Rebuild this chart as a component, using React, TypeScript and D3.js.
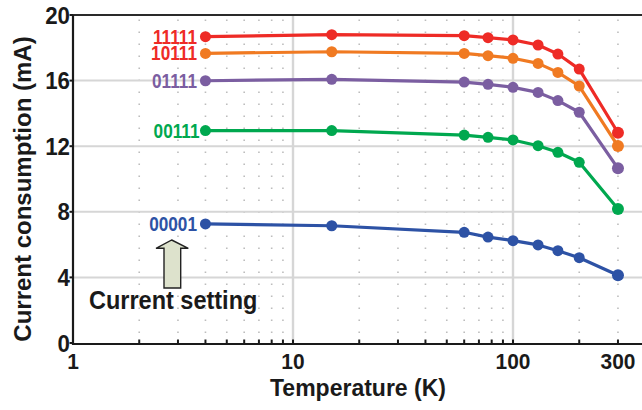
import React from "react";
import * as d3 from "d3";

const temperatures = [4, 15, 60, 77, 100, 130, 160, 200, 300];
const s11111 = [18.68, 18.8, 18.74, 18.62, 18.48, 18.17, 17.62, 16.7, 12.82];
const s10111 = [17.66, 17.76, 17.66, 17.52, 17.36, 17.05, 16.5, 15.67, 12.01];
const s01111 = [15.99, 16.08, 15.91, 15.77, 15.59, 15.28, 14.78, 14.07, 10.65];
const s00111 = [12.95, 12.95, 12.68, 12.54, 12.38, 12.03, 11.63, 11.02, 8.17];
const s00001 = [7.26, 7.15, 6.75, 6.46, 6.24, 5.98, 5.63, 5.2, 4.13];
const seriesNames = ["11111", "10111", "01111", "00111", "00001"];
const seriesColors = ["#ee2b26", "#f07a22", "#7b5ea1", "#00a84f", "#2d52a5"];
const labelColors = ["#ee2b26", "#ee2b26", "#7b5ea1", "#00a84f", "#2d52a5"];
const xMajorTicks = [1, 10, 100, 300];
const xMinorGrid = [2, 3, 4, 5, 6, 7, 8, 9, 20, 30, 40, 50, 60, 70, 80, 90, 200, 300];
const yTicks = [0, 4, 8, 12, 16, 20];
const yGrid = [4, 8, 12, 16];

const W = 642;
const H = 410;
const left = 73;
const top = 15;
const bottom = 344;

export default function App() {
  const x = d3.scaleLog().domain([1, 100]).range([left, 513]);
  const y = d3.scaleLinear().domain([0, 20]).range([343, top]);
  const allSeries = [s11111, s10111, s01111, s00111, s00001];
  const line = d3
    .line<number>()
    .x((_, i) => x(temperatures[i]))
    .y((d) => y(d));
  const font = "'Liberation Sans', Arial, Helvetica, sans-serif";

  return (
    <div style={{ position: "fixed", left: 0, top: 0 }}>
      <svg width={W} height={H} style={{ display: "block", background: "#fff" }} fontFamily={font}>
        {/* minor dotted vertical grid */}
        {xMinorGrid.map((v) => (
          <line
            key={"mg" + v}
            x1={x(v)}
            x2={x(v)}
            y1={333}
            y2={top}
            stroke="#bdbdbd"
            strokeWidth={1.6}
            strokeDasharray="1.6 10.4"
          />
        ))}
        {/* major grids */}
        {yGrid.map((v) => (
          <line key={"yg" + v} x1={left} x2={W} y1={y(v)} y2={y(v)} stroke="#d6d6d6" strokeWidth={2} />
        ))}
        {[10, 100].map((v) => (
          <line key={"xg" + v} x1={x(v)} x2={x(v)} y1={top} y2={bottom} stroke="#d6d6d6" strokeWidth={2.4} />
        ))}
        {/* frame */}
        <line x1={left} x2={W} y1={top} y2={top} stroke="#2a2a2a" strokeWidth={2} />
        <line x1={left} x2={W} y1={bottom} y2={bottom} stroke="#1a1a1a" strokeWidth={2.2} />
        <line x1={left} x2={left} y1={top} y2={bottom + 1} stroke="#1a1a1a" strokeWidth={2.2} />
        {/* x ticks */}
        {[...xMinorGrid, 10, 100].map((v) => (
          <line key={"xt" + v} x1={x(v)} x2={x(v)} y1={bottom} y2={bottom - 4.5} stroke="#1a1a1a" strokeWidth={2} />
        ))}
        {/* y ticks */}
        {yTicks.map((v) => (
          <line key={"yt" + v} x1={left - 3.5} x2={left} y1={y(v)} y2={y(v)} stroke="#1a1a1a" strokeWidth={2} />
        ))}
        {/* y tick labels */}
        {yTicks.map((v) => (
          <text
            key={"yl" + v}
            transform={`translate(${70},${y(v) + 8.6}) scale(0.93,1)`}
            textAnchor="end"
            fontSize={24}
            fontWeight="bold"
            fill="#1a1a1a"
          >
            {v}
          </text>
        ))}
        {/* x tick labels */}
        {xMajorTicks.map((v) => (
          <text
            key={"xl" + v}
            transform={`translate(${x(v)},${369}) scale(0.93,1)`}
            textAnchor="middle"
            fontSize={22.5}
            fontWeight="bold"
            fill="#1a1a1a"
          >
            {v}
          </text>
        ))}
        {/* axis titles */}
        <text x={358} y={396} textAnchor="middle" fontSize={23} fontWeight="bold" fill="#1a1a1a">
          Temperature (K)
        </text>
        <text
          transform={`translate(31,189) rotate(-90)`}
          textAnchor="middle"
          fontSize={24}
          fontWeight="bold"
          fill="#1a1a1a"
        >
          Current consumption (mA)
        </text>
        {/* series */}
        {allSeries
          .map((s, k) => ({ s, k }))
          .reverse()
          .map(({ s, k }) => (
            <g key={"s" + k}>
              <path d={line(s) || ""} fill="none" stroke={seriesColors[k]} strokeWidth={3.2} strokeLinejoin="round" />
              {s.map((v, i) => (
                <circle key={i} cx={x(temperatures[i])} cy={y(v)} r={i === s.length - 1 ? 6 : 5.5} fill={seriesColors[k]} />
              ))}
            </g>
          ))}
        {/* series labels */}
        {allSeries.map((s, k) => (
          <text
            key={"lab" + k}
            transform={`translate(${k === 3 ? 199.5 : 197},${y(s[0]) + 7}) scale(0.86,1)`}
            textAnchor="end"
            fontSize={20}
            fontWeight="bold"
            fill={labelColors[k]}
          >
            {seriesNames[k]}
          </text>
        ))}
        {/* current setting arrow */}
        <path
          d="M171.7,240 L188.3,248.3 L180.7,248.3 L180.7,288 L164,288 L164,248.3 L156,248.3 Z"
          fill="#dde2cc"
          stroke="#222"
          strokeWidth={1.4}
          strokeLinejoin="miter"
        />
        <text
          transform={`translate(89,309) scale(0.94,1)`}
          fontSize={25}
          fontWeight="bold"
          fill="#1a1a1a"
        >
          Current setting
        </text>
      </svg>
    </div>
  );
}
